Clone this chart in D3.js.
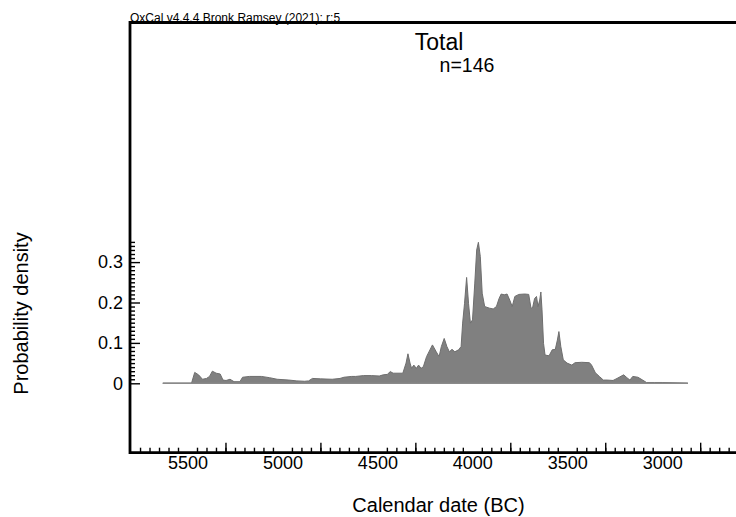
<!DOCTYPE html>
<html>
<head>
<meta charset="utf-8">
<script src="https://cdn.jsdelivr.net/npm/d3@7/dist/d3.min.js"></script>
<style>
  html, body { margin: 0; padding: 0; background: #fff; }
  svg { display: block; font-family: "Liberation Sans", Arial, sans-serif; }
</style>
</head>
<body>
<svg id="chart" width="736" height="517"></svg>
<script>
// ---- data ----
const years = [5630, 5479, 5462, 5442, 5421, 5400, 5384, 5369, 5349, 5328, 5313, 5297, 5276, 5255, 5224, 5210,
  5173, 5111, 5069, 5028, 4966, 4924, 4883, 4862, 4842, 4800, 4738, 4697, 4676, 4635, 4614, 4573, 4531, 4490,
  4469, 4448, 4432, 4417, 4366, 4349, 4339, 4328, 4320, 4308, 4295, 4283, 4270, 4258, 4241, 4210, 4190, 4175,
  4163, 4148, 4134, 4121, 4107, 4092, 4072, 4059, 4051, 4041, 4030, 4020, 4010, 3999, 3987, 3977, 3968, 3958,
  3948, 3935, 3910, 3890, 3873, 3859, 3848, 3832, 3817, 3803, 3790, 3776, 3755, 3724, 3703, 3691, 3683, 3672,
  3662, 3654, 3645, 3639, 3633, 3625, 3617, 3596, 3579, 3563, 3552, 3544, 3534, 3521, 3501, 3476, 3459, 3424,
  3383, 3372, 3352, 3331, 3310, 3290, 3259, 3238, 3203, 3186, 3170, 3155, 3128, 3103, 3083, 3041, 3000, 2917, 2865];
const density = [0, 0, 0.027, 0.021, 0.010, 0.012, 0.017, 0.030, 0.025, 0.023, 0.008, 0.007, 0.010, 0.004, 0.004, 0.015,
  0.017, 0.017, 0.014, 0.010, 0.008, 0.006, 0.005, 0.006, 0.012, 0.011, 0.010, 0.012, 0.015, 0.017, 0.017, 0.019, 0.019, 0.018,
  0.021, 0.022, 0.029, 0.025, 0.025, 0.050, 0.073, 0.050, 0.037, 0.045, 0.037, 0.045, 0.037, 0.041, 0.066, 0.095, 0.078, 0.066,
  0.091, 0.111, 0.091, 0.078, 0.084, 0.078, 0.083, 0.091, 0.149, 0.198, 0.262, 0.198, 0.149, 0.157, 0.248, 0.330, 0.349, 0.314,
  0.223, 0.190, 0.186, 0.184, 0.190, 0.210, 0.221, 0.219, 0.221, 0.206, 0.190, 0.215, 0.220, 0.221, 0.220, 0.186, 0.186, 0.210,
  0.215, 0.190, 0.206, 0.226, 0.182, 0.099, 0.070, 0.068, 0.083, 0.084, 0.107, 0.128, 0.091, 0.058, 0.050, 0.045, 0.051, 0.052,
  0.051, 0.045, 0.026, 0.017, 0.008, 0.008, 0.007, 0.012, 0.021, 0.014, 0.008, 0.017, 0.015, 0.008, 0.002, 0.002, 0.002, 0.001, 0];
const xMajorTicks = [5500, 5000, 4500, 4000, 3500, 3000];
const yMajorTicks = [0, 0.1, 0.2, 0.3];
const title = "Total";
const subtitle = "n=146";
const credit = "OxCal v4.4.4 Bronk Ramsey (2021); r:5";
const xLabel = "Calendar date (BC)";
const yLabel = "Probability density";

// ---- layout ----
const svg = d3.select("#chart");
const frameLeft = 130, frameTop = 22.5, frameBottom = 452.7, frameRight = 745;

const x = d3.scaleLinear().domain([5500, 3000]).range([187.5, 662.2]);
const y = d3.scaleLinear().domain([0, 0.3]).range([383.3, 262.1]);

const pts = years.map((yr, i) => ({ yr, v: density[i] }));

// density area
svg.append("path")
  .datum(pts)
  .attr("d", d3.area().x(d => x(d.yr)).y0(y(0)).y1(d => y(d.v)))
  .attr("fill", "#808080")
  .attr("stroke", "#6e6e6e")
  .attr("stroke-width", 1)
  .attr("stroke-linejoin", "round");
// baseline
svg.append("line")
  .attr("x1", x(years[0])).attr("x2", x(years[years.length - 1]))
  .attr("y1", y(0)).attr("y2", y(0))
  .attr("stroke", "#8a8a8a").attr("stroke-width", 1.5);

// ---- x axis ticks (pointing up from the bottom frame line) ----
const xMinor = d3.range(5800, 2550, -50).filter(v => x(v) > frameLeft + 2 && x(v) < 736 && v % 500 !== 0);
const xAll = d3.range(5800, 2550, -500).filter(v => x(v) > frameLeft + 2 && x(v) < 736);
const gxMinor = svg.append("g").attr("transform", `translate(0,${frameBottom})`)
  .call(d3.axisTop(x).tickValues(xMinor).tickSize(5).tickFormat(""));
const gxMajor = svg.append("g").attr("transform", `translate(0,${frameBottom})`)
  .call(d3.axisTop(x).tickValues(xAll).tickSize(10).tickFormat(""));
const gxLab = svg.append("g").attr("transform", `translate(0,${frameBottom})`)
  .call(d3.axisBottom(x).tickValues(xMajorTicks).tickSize(0).tickPadding(4).tickFormat(d3.format("d")));
[gxMinor, gxMajor, gxLab].forEach(g => g.select(".domain").remove());
svg.selectAll("g .tick line").attr("stroke", "#000").attr("stroke-width", 1.4);
gxLab.selectAll("text").attr("font-size", 18).attr("fill", "#000")
  .attr("font-family", "'Liberation Sans', Arial, sans-serif");

// ---- y axis ticks (pointing right from the left frame line) ----
const yMinor = d3.range(0, 0.3505, 0.01).map(v => +v.toFixed(2)).filter(v => Math.round(v * 100) % 10 !== 0);
const gyMinor = svg.append("g").attr("transform", `translate(${frameLeft},0)`)
  .call(d3.axisRight(y).tickValues(yMinor).tickSize(5).tickFormat(""));
const gyMajor = svg.append("g").attr("transform", `translate(${frameLeft},0)`)
  .call(d3.axisRight(y).tickValues(yMajorTicks).tickSize(10).tickFormat(""));
const gyLab = svg.append("g").attr("transform", `translate(${frameLeft - 2},0)`)
  .call(d3.axisLeft(y).tickValues(yMajorTicks).tickSize(0).tickPadding(5).tickFormat(d => d === 0 ? "0" : d3.format(".1f")(d)));
[gyMinor, gyMajor, gyLab].forEach(g => g.select(".domain").remove());
svg.selectAll("g .tick line").attr("stroke", "#000").attr("stroke-width", 1.4);
gyLab.selectAll("text").attr("font-size", 18).attr("fill", "#000")
  .attr("font-family", "'Liberation Sans', Arial, sans-serif");

// ---- credit (drawn before frame so frame overlaps its bottom) ----
svg.append("text")
  .attr("x", 130).attr("y", 21.5)
  .attr("font-size", 12).attr("fill", "#000")
  .text(credit);

// ---- frame ----
svg.append("path")
  .attr("d", `M${frameRight},${frameTop}H${frameLeft}V${frameBottom}H${frameRight}`)
  .attr("fill", "none").attr("stroke", "#000").attr("stroke-width", 2.8);

// ---- titles ----
svg.append("text").attr("x", 439).attr("y", 50).attr("text-anchor", "middle")
  .attr("font-size", 23).attr("fill", "#000").text(title);
svg.append("text").attr("x", 467).attr("y", 71.5).attr("text-anchor", "middle")
  .attr("font-size", 19.5).attr("fill", "#000").text(subtitle);

svg.append("text").attr("x", 438.5).attr("y", 512).attr("text-anchor", "middle")
  .attr("font-size", 20).attr("fill", "#000").text(xLabel);
svg.append("text").attr("transform", "translate(28,313.5) rotate(-90)").attr("text-anchor", "middle")
  .attr("font-size", 20).attr("fill", "#000").text(yLabel);
</script>
</body>
</html>
